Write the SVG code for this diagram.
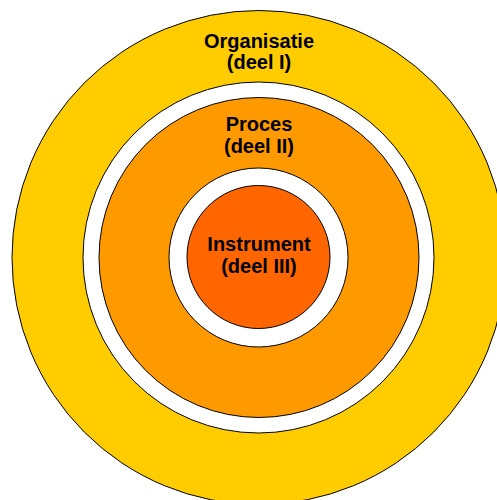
<svg xmlns="http://www.w3.org/2000/svg" width="497" height="500" viewBox="0 0 497 500">
<style>
.ring{stroke:#000;stroke-width:1}
.lbl{font-family:"Liberation Sans",Arial,sans-serif;font-weight:bold;font-size:20px;fill:#000;text-anchor:middle}
</style>
<rect width="497" height="500" fill="#fff"/>
<g id="organisatie">
<circle class="ring" cx="259" cy="257.5" r="247" fill="#FFCC00"/>
<text class="lbl" x="259" y="47.5">Organisatie</text>
<text class="lbl" x="259" y="69">(deel I)</text>
</g>
<g id="ring1">
<circle class="ring" cx="258.5" cy="257.5" r="175.5" fill="#FFFFFF"/>
</g>
<g id="proces">
<circle class="ring" cx="259" cy="257.5" r="160" fill="#FF9900"/>
<text class="lbl" x="259" y="131">Proces</text>
<text class="lbl" x="259" y="153">(deel II)</text>
</g>
<g id="ring2">
<circle class="ring" cx="258.5" cy="257.5" r="89.5" fill="#FFFFFF"/>
</g>
<g id="instrument">
<circle class="ring" cx="258.5" cy="257" r="71.5" fill="#FF6600"/>
<text class="lbl" x="259" y="251">Instrument</text>
<text class="lbl" x="259" y="273">(deel III)</text>
</g>
<g id="connectors"/>
</svg>
